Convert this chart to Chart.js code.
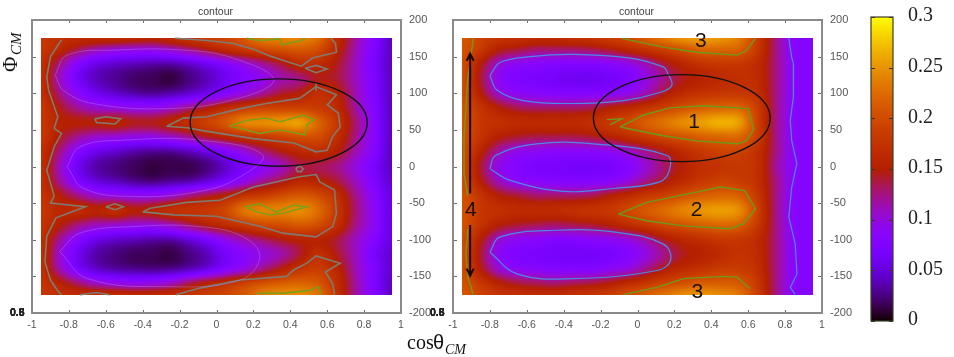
<!DOCTYPE html>
<html>
<head>
<meta charset="utf-8">
<script src="https://cdn.jsdelivr.net/npm/chart.js@4/dist/chart.umd.min.js"></script>
<style>
  html, body { margin: 0; background: #fff; overflow: hidden; }
  canvas { position: absolute; top: 0; }
</style>
</head>
<body>
<canvas id="leftChart" width="470" height="357" style="left:0"></canvas>
<canvas id="rightChart" width="430" height="357" style="left:430px"></canvas>
<canvas id="barChart" width="94" height="357" style="left:860px"></canvas>
<script>
// grid of the surface (cos theta across, phi down)
const cosValues = [-.95,-.85,-.75,-.65,-.55,-.45,-.35,-.25,-.15,-.05,.05,.15,.25,.35,.45,.55,.65,.75,.85,.95];
const phiValues = [175,160,140,120,100,80,60,40,20,0,-20,-40,-60,-80,-100,-120,-140,-160,-175];

const leftZ = [
  [.18,.17,.165,.165,.165,.16,.155,.165,.175,.185,.195,.21,.235,.24,.24,.225,.17,.12,.08,.04],
  [.18,.16,.135,.115,.105,.1,.1,.11,.125,.145,.165,.18,.195,.205,.21,.2,.16,.115,.075,.04],
  [.17,.125,.08,.055,.045,.04,.035,.035,.045,.06,.08,.1,.12,.14,.165,.165,.145,.11,.07,.04],
  [.17,.11,.065,.04,.03,.02,.017,.012,.025,.04,.06,.08,.095,.115,.125,.145,.14,.11,.075,.04],
  [.17,.125,.085,.06,.045,.035,.03,.035,.045,.06,.08,.1,.12,.14,.15,.17,.155,.115,.075,.04],
  [.18,.145,.12,.105,.1,.095,.095,.105,.125,.145,.165,.18,.19,.19,.19,.185,.165,.12,.08,.04],
  [.18,.155,.15,.15,.155,.145,.145,.155,.17,.19,.21,.24,.245,.25,.255,.22,.18,.13,.085,.04],
  [.18,.145,.12,.105,.1,.095,.095,.105,.12,.14,.155,.17,.18,.19,.2,.2,.17,.125,.085,.04],
  [.17,.125,.08,.055,.045,.035,.03,.03,.04,.055,.075,.1,.125,.145,.16,.165,.15,.115,.08,.04],
  [.17,.11,.06,.035,.025,.018,.012,.015,.015,.025,.045,.07,.09,.11,.135,.135,.125,.1,.07,.04],
  [.17,.12,.075,.05,.04,.03,.025,.03,.035,.05,.07,.095,.12,.14,.16,.155,.14,.11,.075,.045],
  [.175,.15,.125,.105,.1,.095,.095,.105,.125,.14,.155,.175,.185,.2,.21,.2,.17,.125,.085,.05],
  [.18,.16,.165,.155,.165,.15,.155,.17,.175,.18,.195,.23,.24,.24,.245,.225,.18,.13,.09,.05],
  [.175,.15,.125,.11,.105,.1,.1,.11,.13,.15,.165,.18,.195,.2,.21,.2,.17,.125,.09,.05],
  [.17,.12,.08,.055,.045,.04,.035,.035,.05,.07,.095,.115,.13,.145,.155,.155,.14,.11,.08,.05],
  [.17,.105,.06,.035,.025,.018,.017,.013,.025,.04,.065,.085,.1,.115,.14,.17,.145,.11,.07,.045],
  [.17,.115,.07,.045,.035,.03,.028,.03,.04,.055,.08,.1,.125,.15,.175,.185,.16,.115,.075,.045],
  [.175,.155,.13,.11,.1,.095,.1,.11,.135,.155,.17,.19,.205,.215,.22,.21,.17,.12,.075,.04],
  [.18,.17,.165,.165,.165,.16,.16,.165,.175,.185,.195,.21,.235,.245,.245,.23,.175,.12,.08,.04]
];

const rightZ = [
  [.21,.19,.175,.17,.165,.165,.17,.175,.185,.195,.215,.235,.25,.255,.25,.235,.185,.125,.085,.08],
  [.205,.18,.15,.14,.13,.13,.13,.135,.145,.16,.175,.19,.205,.22,.22,.215,.18,.125,.085,.08],
  [.2,.15,.105,.09,.085,.08,.08,.08,.085,.095,.115,.14,.16,.175,.18,.18,.165,.125,.085,.08],
  [.2,.14,.09,.075,.07,.065,.06,.06,.065,.075,.1,.125,.145,.155,.165,.17,.165,.125,.085,.08],
  [.2,.15,.105,.09,.085,.08,.08,.08,.085,.095,.115,.145,.165,.175,.18,.18,.17,.125,.085,.08],
  [.205,.175,.15,.135,.13,.13,.13,.135,.15,.16,.175,.19,.205,.215,.22,.22,.185,.125,.085,.08],
  [.205,.18,.17,.165,.165,.165,.165,.17,.18,.195,.215,.23,.245,.255,.265,.255,.19,.125,.085,.08],
  [.205,.175,.15,.14,.135,.135,.135,.14,.15,.165,.18,.195,.205,.215,.22,.22,.185,.125,.085,.08],
  [.2,.155,.115,.095,.09,.085,.085,.085,.09,.105,.125,.145,.165,.18,.19,.19,.17,.125,.085,.08],
  [.2,.14,.095,.08,.07,.07,.065,.065,.07,.08,.105,.13,.155,.17,.175,.18,.17,.12,.085,.08],
  [.2,.15,.11,.09,.085,.08,.08,.08,.085,.1,.125,.145,.165,.18,.19,.185,.17,.125,.085,.08],
  [.205,.175,.15,.14,.13,.13,.13,.135,.15,.165,.18,.19,.205,.215,.22,.215,.18,.125,.085,.08],
  [.205,.18,.17,.165,.165,.165,.17,.175,.18,.195,.21,.225,.24,.25,.255,.245,.19,.125,.085,.08],
  [.205,.175,.15,.14,.135,.13,.135,.14,.15,.165,.18,.195,.205,.215,.22,.215,.18,.125,.085,.08],
  [.2,.15,.105,.09,.085,.08,.08,.085,.09,.1,.12,.145,.16,.17,.18,.18,.165,.125,.085,.08],
  [.2,.14,.09,.075,.07,.065,.065,.065,.07,.08,.1,.125,.145,.155,.165,.175,.165,.125,.085,.08],
  [.2,.15,.105,.09,.085,.08,.08,.08,.09,.1,.125,.15,.165,.175,.185,.185,.17,.125,.085,.08],
  [.205,.18,.155,.14,.135,.13,.135,.14,.15,.165,.18,.195,.205,.215,.215,.21,.18,.125,.085,.08],
  [.21,.19,.175,.17,.165,.165,.17,.175,.185,.2,.215,.23,.245,.25,.245,.23,.185,.125,.085,.08]
];

// contour lines, [cos, phi]
const leftGrey = [
  [[-.225,175],[-.05,172],[.09,168],[.2,160],[.3,150],[.36,145],[.46,137],[.52,148],[.65,156],[.645,168],[.62,175]],
  [[.48,134],[.54,138],[.6,133],[.54,128],[.48,134]],
  [[-.84,173],[-.9,150],[-.92,122],[-.91,104],[-.88,82],[-.86,68],[-.88,52],[-.84,45],[-.88,27],[-.92,-5],[-.88,-40],[-.9,-50],[-.71,-55],[-.87,-70],[-.92,-95],[-.93,-130],[-.9,-155],[-.86,-170],[-.84,-175]],
  [[-.66,65],[-.6,68],[-.52,65],[-.55,58],[-.65,60],[-.66,65]],
  [[-.6,-55],[-.55,-51],[-.505,-55],[-.55,-59],[-.6,-55]],
  [[-.27,55],[-.18,66],[-.05,68],[.13,79],[.27,86],[.45,93],[.54,109],[.65,98],[.6,84],[.66,73],[.67,54],[.63,41],[.6,22],[.54,20],[.42,32],[.2,38],[-.05,48],[-.16,53],[-.27,55]],
  [[.54,115],[.54,103]],
  [[.43,-3],[.45,1],[.47,-3],[.46,-7],[.44,-7],[.43,-3]],
  [[-.4,-62],[-.36,-57],[-.16,-49],[.02,-46],[.2,-28],[.45,-14],[.54,-11],[.56,-21],[.64,-32],[.65,-64],[.63,-82],[.54,-96],[.36,-91],[.24,-82],[0,-68],[-.23,-66],[-.4,-62]],
  [[-.22,-175],[-.09,-166],[.13,-155],[.38,-150],[.42,-141],[.49,-132],[.54,-122],[.67,-132],[.59,-144],[.63,-160],[.64,-175]],
  [[-.74,-175],[-.65,-172],[-.58,-175]]
];
const leftGreen = [
  [[.07,55],[.165,63],[.27,66],[.345,61],[.43,67],[.47,70],[.53,64],[.49,57],[.48,43],[.345,50],[.235,45],[.13,52],[.07,55]],
  [[.155,-55],[.235,-51],[.325,-62],[.415,-53],[.49,-55],[.36,-64],[.29,-66],[.22,-62],[.155,-55]],
  [[.165,175],[.235,172],[.345,174],[.35,166],[.46,172],[.48,175]],
  [[.22,-173],[.36,-173],[.51,-169],[.55,-164],[.57,-175]]
];
const leftPale = [
  [[-.875,125],[-.81,152],[-.54,159],[-.18,159],[.09,148],[.31,118],[.09,91],[-.27,79],[-.67,86],[-.83,104],[-.875,125]],
  [[-.81,0],[-.74,27],[-.5,36],[-.09,36],[.25,16],[.13,-14],[-.09,-34],[-.45,-41],[-.72,-30],[-.81,0]],
  [[-.85,-116],[-.74,-91],[-.45,-82],[-.09,-82],[.145,-96],[.235,-123],[.13,-155],[-.27,-164],[-.7,-153],[-.85,-116]]
];
const rightRings = [
  [[-.8,124],[-.745,142],[-.58,150],[-.35,153],[-.04,148],[.14,136],[.16,129],[.186,111],[.12,101],[-.076,90],[-.35,86],[-.62,90],[-.76,104],[-.8,124]],
  [[-.8,-3],[-.77,15],[-.545,31],[-.24,31],[.16,15],[.173,-5],[.12,-21],[-.13,-30],[-.4,-34],[-.69,-19],[-.8,-3]],
  [[-.8,-117],[-.745,-96],[-.44,-87],[-.11,-90],[.14,-106],[.18,-128],[.105,-142],[-.35,-153],[-.65,-147],[-.8,-117]]
];
const rightEdge = [
  [[.82,175],[.836,149],[.845,140],[.845,95],[.828,63],[.836,35],[.864,4],[.836,-28],[.82,-69],[.855,-106],[.864,-147],[.828,-165],[.855,-175]]
];
const rightGreen = [
  [[-.094,54],[.03,70],[.177,80],[.36,83],[.6,79],[.63,51],[.59,35],[.54,31],[.32,35],[.14,42],[-.094,54]],
  [[-.166,64],[-.085,65],[-.148,57]],
  [[-.103,-65],[.05,-49],[.32,-35],[.45,-28],[.58,-33],[.64,-58],[.575,-78],[.5,-85],[.25,-81],[.05,-74],[-.103,-65]],
  [[-.085,175],[.14,163],[.32,156],[.54,152],[.59,158],[.64,175]],
  [[-.076,-175],[.105,-165],[.25,-153],[.47,-150],[.54,-151],[.61,-167]],
  [[-.89,175],[-.92,120],[-.94,40],[-.94,-10],[-.92,-40]],
  [[-.92,-85],[-.93,-120],[-.92,-150],[-.89,-175]]
];

// notes drawn on the panels
const leftEllipse = { x: .337, y: 60, rx: .48, ry: 59.6 };
const rightEllipse = { x: .24, y: 66, rx: .479, ry: 59.4 };
const rightNotes = [["3",.343,171],["1",.307,60],["2",.32,-60],["3",.325,-171],["4",-.903,-60]];
const rightArrows = [[-.907,-37,-.907,154],[-.907,-80,-.907,-149]];
const strayLabels = ["0.5","0.8","0.3","0.6"];

const barTicks = [0,.05,.1,.15,.2,.25,.3];
const barMax = 0.3;

const SANS = '"Liberation Sans", Arial, sans-serif';
const SERIF = '"Liberation Serif", "Times New Roman", serif';

// gnuplot default palette (rgbformulae 7,5,15)
function paletteColor(v) {
  const t = Math.min(1, Math.max(0, v / barMax));
  return [
    Math.sqrt(t) * 255,
    t * t * t * 255,
    Math.max(0, Math.sin(2 * Math.PI * t)) * 255,
  ];
}

function catmull(a, b, c, d, t) {
  return 0.5 * (2 * b + (c - a) * t + (2 * a - 5 * b + 4 * c - d) * t * t + (3 * b - a - 3 * c + d) * t * t * t);
}

function locate(list, v) {
  for (let i = 0; i < list.length - 1; i++) {
    const lo = list[i], hi = list[i + 1];
    if ((v - lo) * (v - hi) <= 0) return [i, (v - lo) / (hi - lo)];
  }
  return v < Math.min(list[0], list[list.length - 1]) === (list[0] < list[1]) ? [0, 0] : [list.length - 2, 1];
}

function sampleZ(z, c, p) {
  const [i, tx] = locate(cosValues, c);
  const [j, ty] = locate(phiValues, p);
  const col = (r, k) => r[Math.min(r.length - 1, Math.max(0, k))];
  const rows = [j - 1, j, j + 1, j + 2].map((k) => {
    const r = z[Math.min(z.length - 1, Math.max(0, k))];
    return catmull(col(r, i - 1), col(r, i), col(r, i + 1), col(r, i + 2), tx);
  });
  return catmull(rows[0], rows[1], rows[2], rows[3], ty);
}

const surfacePlugin = {
  id: "surface",
  beforeDatasetsDraw(chart, args, opts) {
    if (!opts.z) return;
    const { x: xs, y: ys } = chart.scales;
    const x0 = Math.round(xs.getPixelForValue(cosValues[0]));
    const x1 = Math.round(xs.getPixelForValue(cosValues[cosValues.length - 1]));
    const y0 = Math.round(ys.getPixelForValue(phiValues[0]));
    const y1 = Math.round(ys.getPixelForValue(phiValues[phiValues.length - 1]));
    const w = x1 - x0, h = y1 - y0;
    const off = document.createElement("canvas");
    off.width = w; off.height = h;
    const octx = off.getContext("2d");
    const img = octx.createImageData(w, h);
    for (let py = 0; py < h; py++) {
      const phi = ys.getValueForPixel(y0 + py + 0.5);
      for (let px = 0; px < w; px++) {
        const c = xs.getValueForPixel(x0 + px + 0.5);
        const rgb = paletteColor(sampleZ(opts.z, c, phi));
        const k = (py * w + px) * 4;
        img.data[k] = rgb[0]; img.data[k + 1] = rgb[1]; img.data[k + 2] = rgb[2]; img.data[k + 3] = 255;
      }
    }
    octx.putImageData(img, 0, 0);
    chart.ctx.drawImage(off, x0, y0);
  },
};

function drawFrame(chart) {
  const { ctx, chartArea: a, scales } = chart;
  ctx.save();
  ctx.strokeStyle = "#6e6e6e";
  ctx.lineWidth = 1;
  ctx.beginPath();
  scales.x.ticks.forEach((t) => {
    const px = Math.round(scales.x.getPixelForValue(t.value)) + 0.5;
    ctx.moveTo(px, a.top); ctx.lineTo(px, a.top + 3);
    ctx.moveTo(px, a.bottom); ctx.lineTo(px, a.bottom - 3);
  });
  scales.y.ticks.forEach((t) => {
    const py = Math.round(scales.y.getPixelForValue(t.value)) + 0.5;
    ctx.moveTo(a.left, py); ctx.lineTo(a.left + 4, py);
    ctx.moveTo(a.right, py); ctx.lineTo(a.right - 4, py);
  });
  ctx.stroke();
  ctx.strokeStyle = "#8a8a8a";
  ctx.lineWidth = 2;
  ctx.strokeRect(a.left, a.top, a.right - a.left, a.bottom - a.top);
  ctx.restore();
}

const notesPlugin = {
  id: "notes",
  afterDatasetsDraw(chart, args, opts) {
    const { ctx, chartArea: a, scales: { x: xs, y: ys } } = chart;
    drawFrame(chart);
    ctx.save();
    ctx.textBaseline = "middle";

    // small title above the frame
    ctx.fillStyle = "#444";
    ctx.font = "10.5px " + SANS;
    ctx.textAlign = "center";
    ctx.fillText("contour", (a.left + a.right) / 2 - 1, 12.5);

    // the labels piled on top of each other in the corner of the original
    ctx.font = "bold 10.5px " + SANS;
    ctx.textAlign = "left";
    ctx.fillStyle = "#222";
    strayLabels.forEach((s) => ctx.fillText(s, opts.strayX, 313));

    const e = opts.ellipse;
    ctx.strokeStyle = "#111";
    ctx.lineWidth = 1.4;
    ctx.beginPath();
    ctx.ellipse(
      xs.getPixelForValue(e.x), ys.getPixelForValue(e.y),
      Math.abs(xs.getPixelForValue(e.x + e.rx) - xs.getPixelForValue(e.x)),
      Math.abs(ys.getPixelForValue(e.y + e.ry) - ys.getPixelForValue(e.y)),
      0, 0, Math.PI * 2
    );
    ctx.stroke();

    (opts.arrows || []).forEach(([x1, y1, x2, y2]) => {
      const px1 = xs.getPixelForValue(x1), py1 = ys.getPixelForValue(y1);
      const px2 = xs.getPixelForValue(x2), py2 = ys.getPixelForValue(y2);
      const dir = py2 < py1 ? 1 : -1;
      ctx.strokeStyle = "#1e0505";
      ctx.lineWidth = 2;
      ctx.beginPath();
      ctx.moveTo(px1, py1); ctx.lineTo(px2, py2);
      ctx.moveTo(px2 - 3.5, py2 + dir * 7); ctx.lineTo(px2, py2); ctx.lineTo(px2 + 3.5, py2 + dir * 7);
      ctx.stroke();
    });

    ctx.fillStyle = "#1c1008";
    ctx.font = "21px " + SANS;
    ctx.textAlign = "center";
    (opts.notes || []).forEach(([s, x, y]) => {
      ctx.fillText(s, xs.getPixelForValue(x), ys.getPixelForValue(y));
    });

    // axis titles
    ctx.fillStyle = "#111";
    if (opts.axisTitles) {
      ctx.textBaseline = "alphabetic";
      ctx.textAlign = "left";
      ctx.font = "20px " + SERIF;
      ctx.fillText("cos", 407, 349);
      ctx.font = "20px " + SANS;
      ctx.fillText("θ", 433, 349);
      ctx.font = "italic 14px " + SERIF;
      ctx.fillText("CM", 445, 354);

      ctx.translate(17, 72);
      ctx.rotate(-Math.PI / 2);
      ctx.font = "21px " + SERIF;
      ctx.fillText("Φ", 0, 0);
      ctx.font = "italic 15px " + SERIF;
      ctx.fillText("CM", 17, 4);
    }
    ctx.restore();
  },
};

function toDatasets(lines, color, width, tension) {
  return lines.map((line) => ({
    data: line.map(([x, y]) => ({ x, y })),
    showLine: true,
    borderColor: color,
    borderWidth: width,
    pointRadius: 0,
    tension: tension || 0,
    fill: false,
  }));
}

function makePanel(id, datasets, area, noteOpts) {
  new Chart(document.getElementById(id), {
    type: "scatter",
    data: { datasets },
    plugins: [surfacePlugin, notesPlugin],
    options: {
      responsive: false,
      animation: false,
      layout: { padding: { left: area.left, top: 20, right: 0, bottom: 0 } },
      scales: {
        x: {
          type: "linear", min: -1, max: 1,
          afterFit: (s) => { s.height = 44; },
          grid: { display: false, drawTicks: false },
          border: { display: false },
          ticks: {
            stepSize: 0.2, padding: 6, maxRotation: 0, color: "#555",
            font: { family: SANS, size: 10.5 },
            callback: (v) => String(Math.round(v * 10) / 10),
          },
        },
        y: {
          type: "linear", position: "right", min: -200, max: 200,
          afterFit: (s) => { s.width = area.axis; },
          grid: { display: false, drawTicks: false },
          border: { display: false },
          ticks: {
            stepSize: 50, padding: 8, color: "#555",
            font: { family: SANS, size: 11 },
          },
        },
      },
      plugins: {
        legend: { display: false },
        tooltip: { enabled: false },
        surface: { z: noteOpts.z },
        notes: noteOpts,
      },
    },
  });
}

makePanel(
  "leftChart",
  [
    ...toDatasets(leftPale, "rgba(176,130,255,0.4)", 1, 0.4),
    ...toDatasets(leftGrey, "#807a70", 1.6),
    ...toDatasets(leftGreen, "#74a01e", 1.4),
  ],
  { left: 32, axis: 69 },
  { z: leftZ, ellipse: leftEllipse, strayX: 10, axisTitles: true }
);

makePanel(
  "rightChart",
  [
    ...toDatasets(rightRings, "#4f86e8", 1.2, 0.4),
    ...toDatasets(rightEdge, "#4f86e8", 1.2),
    ...toDatasets(rightGreen, "#6c9a1e", 1.4),
  ],
  { left: 23, axis: 38 },
  { z: rightZ, ellipse: rightEllipse, strayX: 0, notes: rightNotes, arrows: rightArrows }
);

// colour bar
const barPlugin = {
  id: "bar",
  beforeDatasetsDraw(chart) {
    const { ctx, chartArea: a, scales: { y: ys } } = chart;
    for (let py = Math.floor(a.top); py < a.bottom; py++) {
      const rgb = paletteColor(ys.getValueForPixel(py + 0.5));
      ctx.fillStyle = `rgb(${rgb[0] | 0},${rgb[1] | 0},${rgb[2] | 0})`;
      ctx.fillRect(a.left, py, a.right - a.left, 1);
    }
  },
  afterDatasetsDraw(chart) {
    const { ctx, chartArea: a, scales: { y: ys } } = chart;
    ctx.save();
    ctx.strokeStyle = "#333";
    ctx.lineWidth = 1;
    ctx.beginPath();
    barTicks.forEach((v) => {
      const py = Math.round(ys.getPixelForValue(v)) + 0.5;
      ctx.moveTo(a.left, py); ctx.lineTo(a.left + 4, py);
      ctx.moveTo(a.right, py); ctx.lineTo(a.right - 4, py);
    });
    ctx.stroke();
    ctx.strokeStyle = "#3c3c2c";
    ctx.lineWidth = 1.2;
    ctx.strokeRect(a.left, a.top, a.right - a.left, a.bottom - a.top);
    ctx.restore();
  },
};

new Chart(document.getElementById("barChart"), {
  type: "scatter",
  data: { datasets: [{ data: [] }] },
  plugins: [barPlugin],
  options: {
    responsive: false,
    animation: false,
    layout: { padding: { left: 11, top: 17, right: 0, bottom: 36 } },
    scales: {
      x: { display: false, min: 0, max: 1, afterFit: (s) => { s.height = 0; } },
      y: {
        type: "linear", position: "right", min: 0, max: barMax,
        afterBuildTicks: (s) => { s.ticks = barTicks.map((value) => ({ value })); },
        // tick padding would otherwise push the bar down from the top
        afterFit: (s) => { s.width = 61; s.paddingTop = 0; s.paddingBottom = 0; },
        grid: { display: false, drawTicks: false },
        border: { display: false },
        ticks: {
          padding: 15, labelOffset: -1, color: "#222",
          font: { family: SERIF, size: 20 },
          callback: (v) => String(Math.round(v * 100) / 100),
        },
      },
    },
    plugins: { legend: { display: false }, tooltip: { enabled: false } },
  },
});
</script>
</body>
</html>
